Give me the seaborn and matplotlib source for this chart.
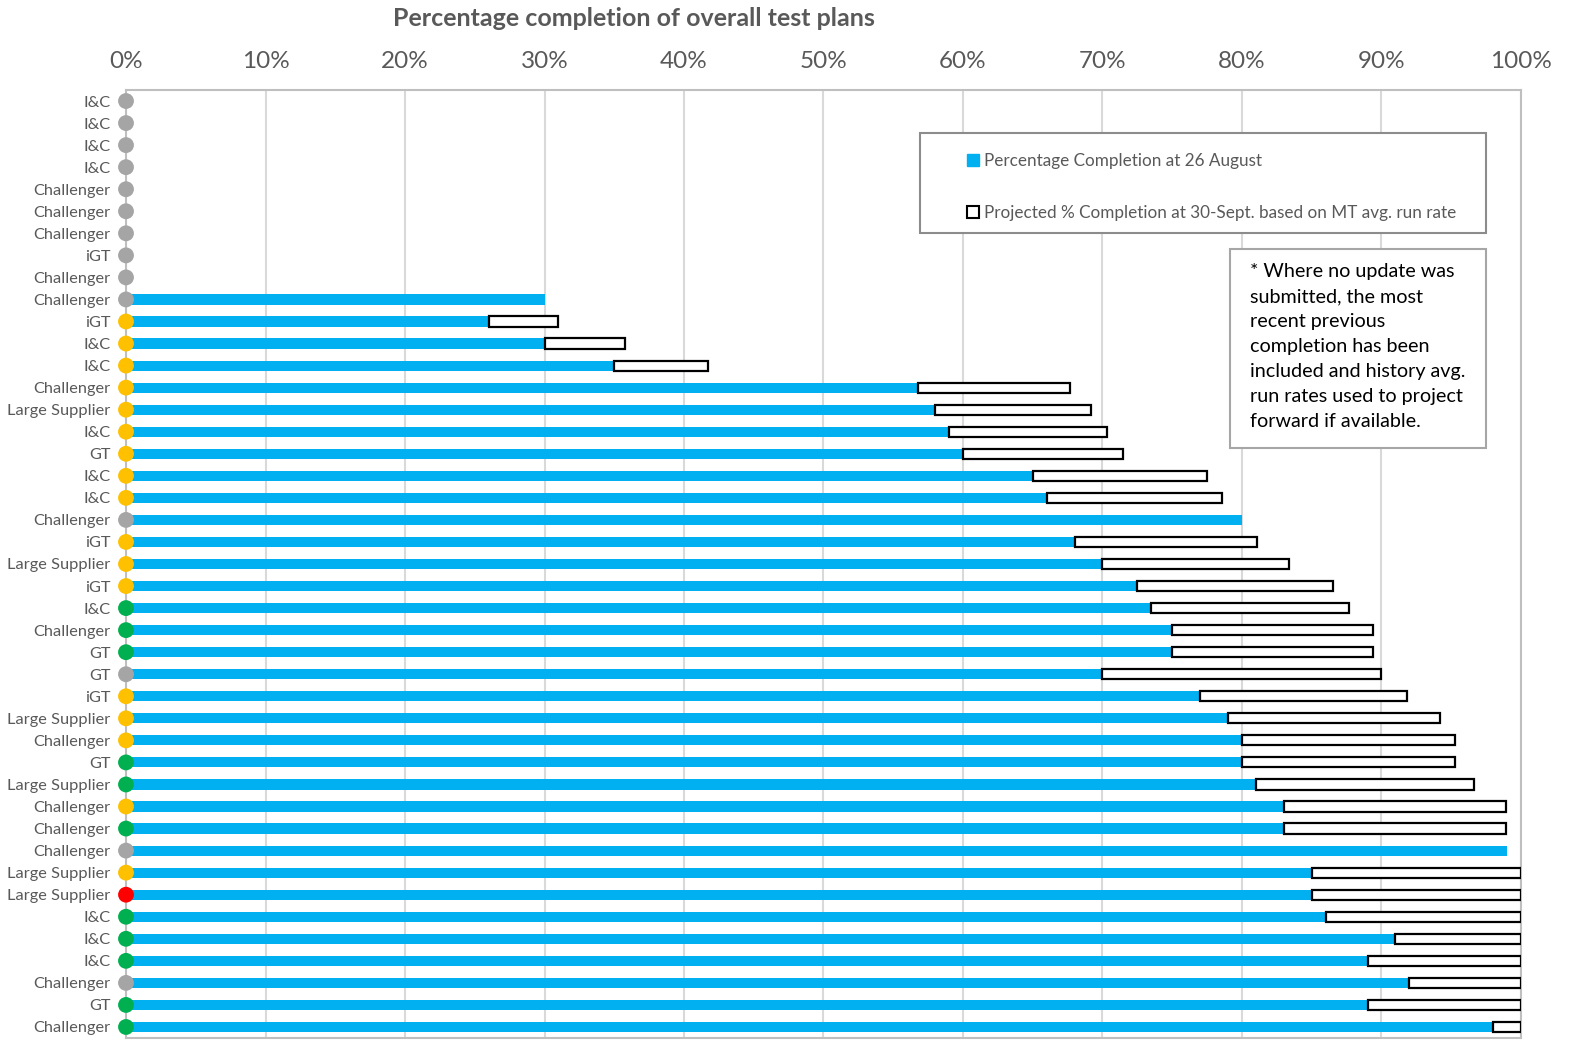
import matplotlib
matplotlib.use("Agg")
import matplotlib.pyplot as plt
import seaborn as sns
import pandas as pd
import numpy as np
from matplotlib.patches import Patch, Rectangle

labels = ["I&C", "I&C", "I&C", "I&C", "Challenger", "Challenger", "Challenger", "iGT",
          "Challenger", "Challenger", "iGT", "I&C", "I&C", "Challenger", "Large Supplier",
          "I&C", "GT", "I&C", "I&C", "Challenger", "iGT", "Large Supplier", "iGT", "I&C",
          "Challenger", "GT", "GT", "iGT", "Large Supplier", "Challenger", "GT",
          "Large Supplier", "Challenger", "Challenger", "Challenger", "Large Supplier",
          "Large Supplier", "I&C", "I&C", "I&C", "Challenger", "GT", "Challenger"]

status = ["grey", "grey", "grey", "grey", "grey", "grey", "grey", "grey", "grey", "grey",
          "amber", "amber", "amber", "amber", "amber", "amber", "amber", "amber", "amber",
          "grey", "amber", "amber", "amber", "green", "green", "green", "grey", "amber",
          "amber", "amber", "green", "green", "amber", "green", "grey", "amber", "red",
          "green", "green", "green", "grey", "green", "green"]

current = [0, 0, 0, 0, 0, 0, 0, 0, 0, 30,
           26, 30, 35, 56.8, 58, 59, 60, 65, 66, 80,
           68, 70, 72.5, 73.5, 75, 75, 70, 77, 79, 80,
           80, 81, 83, 83, 99, 85, 85, 86, 91, 89,
           92, 89, 98]

projected = [0, 0, 0, 0, 0, 0, 0, 0, 0, 30,
             31, 35.8, 41.7, 67.7, 69.2, 70.3, 71.5, 77.5, 78.6, 80,
             81.1, 83.4, 86.5, 87.7, 89.4, 89.4, 90, 91.8, 94.2, 95.3,
             95.3, 96.6, 98.9, 98.9, 99, 100, 100, 100, 100, 100,
             100, 100, 100]

status_colors = {"grey": "#A5A5A5", "amber": "#FFC000", "green": "#00B050", "red": "#FF0000"}
BLUE = "#00B0F0"
TXT = "#595959"

df = pd.DataFrame({"row": np.arange(len(labels)), "label": labels, "status": status,
                   "current": current, "projected": projected})
df["extra"] = df["projected"] - df["current"]

plt.rcParams["font.family"] = ["Lato", "DejaVu Sans"]
fig = plt.figure(figsize=(15.75, 10.45), dpi=100)
W, H = 1575, 1045
ax = fig.add_axes([126 / W, 1 - 1038 / H, (1521 - 126) / W, (1038 - 90) / H])

ax.set_axisbelow(True)
for v in range(0, 101, 10):
    ax.axvline(v, color="#D9D9D9", lw=1.5, zorder=0)

sns.barplot(data=df, x="current", y="row", orient="h", native_scale=True,
            color=BLUE, width=0.46, saturation=1, ax=ax, zorder=2, legend=False)

mask = df["extra"] > 0
ax.barh(df.loc[mask, "row"], df.loc[mask, "extra"], left=df.loc[mask, "current"],
        height=0.46, color="white", edgecolor="black", linewidth=1.6, zorder=3)

sns.scatterplot(data=df, x=np.zeros(len(df)), y="row", hue="status", palette=status_colors,
                s=130, linewidth=0, ax=ax, zorder=5, clip_on=False, legend=False)

ax.set_xlim(0, 100)
ax.set_ylim(len(labels) - 0.5, -0.5)
ax.set_yticks(df["row"])
ax.set_yticklabels(labels, fontsize=11.8, color=TXT)
ax.set_xticks(range(0, 101, 10))
ax.set_xticklabels([f"{v}%" for v in range(0, 101, 10)], fontsize=17.5, color=TXT)
ax.xaxis.tick_top()
ax.tick_params(axis="both", length=0)
ax.tick_params(axis="x", pad=13)
ax.tick_params(axis="y", pad=11)
ax.set_xlabel("")
ax.set_ylabel("")
for s in ax.spines.values():
    s.set_color("#BFBFBF")
    s.set_linewidth(1.5)

fig.text(634 / W, 1 - 18 / H, "Percentage completion of overall test plans",
         ha="center", va="center", fontsize=18, fontweight="bold", color=TXT)

# legend box
fig.patches.append(Rectangle((920 / W, 1 - 233 / H), (1486 - 920) / W, (233 - 133) / H,
                             transform=fig.transFigure, fill=True, facecolor="white",
                             edgecolor="#8C8C8C", lw=1.5, zorder=10))
handles = [Patch(facecolor=BLUE, edgecolor=BLUE),
           Patch(facecolor="white", edgecolor="black", lw=1.5)]
leg = fig.legend(handles, ["Percentage Completion at 26 August",
                           "Projected % Completion at 30-Sept. based on MT avg. run rate"],
                 loc="upper left", bbox_to_anchor=(952 / W, 1 - 138 / H), frameon=False,
                 fontsize=12.3, labelcolor=TXT, handlelength=0.7, handleheight=0.7,
                 handletextpad=0.3, labelspacing=2.1)
leg.set_zorder(11)

# note box
fig.patches.append(Rectangle((1230 / W, 1 - 448 / H), (1486 - 1230) / W, (448 - 249) / H,
                             transform=fig.transFigure, fill=True, facecolor="white",
                             edgecolor="#A6A6A6", lw=1.5, zorder=10))
note = ("* Where no update was\nsubmitted, the most\nrecent previous\ncompletion has been\n"
        "included and history avg.\nrun rates used to project\nforward if available.")
fig.text(1250 / W, 1 - 263 / H, note, ha="left", va="top", fontsize=14.2, color="black",
         linespacing=1.57, zorder=12)

fig.savefig("out.png", dpi=100)
